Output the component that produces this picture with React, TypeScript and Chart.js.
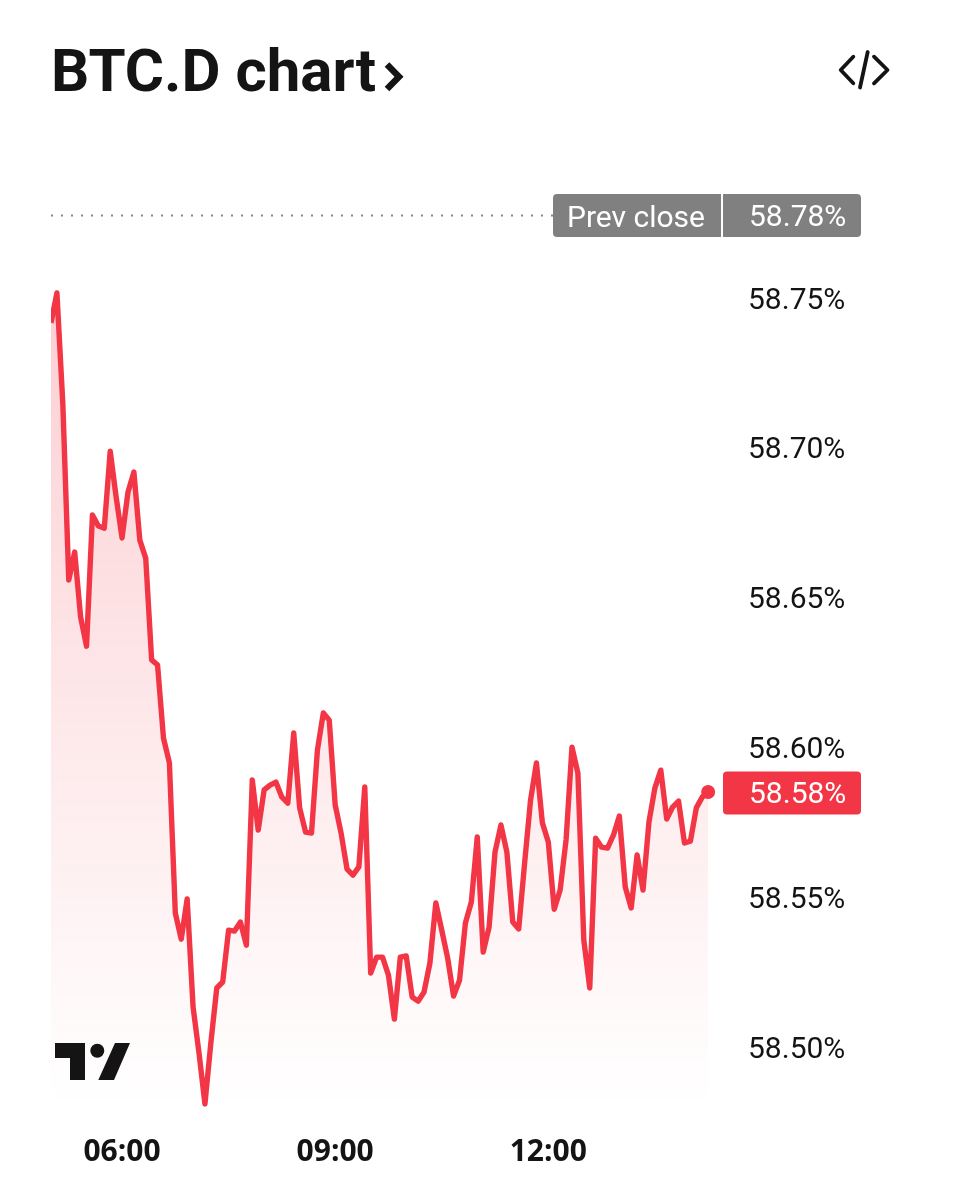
import React, { useEffect, useRef } from "react";
import { Chart, registerables } from "chart.js";

Chart.register(...registerables);

const TITLE = "BTC.D chart";
const START_MINUTE = 300;
const STEP_MINUTES = 5;
const PREV_CLOSE = 58.7775;
const PREV_CLOSE_LABEL = "58.78%";
const LAST_LABEL = "58.58%";
const Y_TICKS = [58.5, 58.55, 58.6, 58.65, 58.7, 58.75];
const X_TICKS = [360, 540, 720];
const PRICES = [
  58.7417, 58.7517, 58.7146, 58.6559, 58.6652, 58.6435, 58.6338, 58.6776, 58.6739, 58.6732,
  58.6989, 58.6836, 58.6699, 58.6852, 58.6919, 58.6692, 58.6632, 58.6292, 58.6275, 58.6031,
  58.5948, 58.5447, 58.536, 58.5494, 58.5133, 58.498, 58.481, 58.5013, 58.5197, 58.5217,
  58.539, 58.5387, 58.5417, 58.534, 58.5891, 58.5724, 58.5858, 58.5874, 58.5884, 58.5834,
  58.5814, 58.6048, 58.5798, 58.5717, 58.5714, 58.5991, 58.6115, 58.6091, 58.5808, 58.5714,
  58.5594, 58.5574, 58.5601, 58.5868, 58.5247, 58.53, 58.53, 58.524, 58.5093, 58.53,
  58.5304, 58.5167, 58.5153, 58.5183, 58.528, 58.5481, 58.539, 58.5297, 58.517, 58.5223,
  58.5414, 58.5484, 58.5701, 58.5317, 58.54, 58.5651, 58.5741, 58.5651, 58.5417, 58.5394,
  58.5614, 58.5824, 58.5948, 58.5748, 58.5684, 58.546, 58.5524, 58.5691, 58.6001, 58.5914,
  58.5357, 58.5197, 58.5697, 58.5667, 58.5664, 58.5707, 58.5771, 58.5534, 58.5464, 58.5641,
  58.5524, 58.5751, 58.5864, 58.5924, 58.5761, 58.5801, 58.5821, 58.5681, 58.5687, 58.5798,
  58.5834, 58.5851,
];

const RED = "#F23645";
const INK = "#141414";
const GREY = "#808080";
const FONT = "Roboto, sans-serif";

function pill(ctx: CanvasRenderingContext2D, x: number, y: number, w: number, h: number, r: number[], color: string) {
  ctx.fillStyle = color;
  ctx.beginPath();
  ctx.roundRect(x, y, w, h, r);
  ctx.fill();
}

const decor = {
  id: "decor",
  beforeDraw(chart: any) {
    // y-axis labels sit a little below their tick position
    for (const item of chart.scales.y.getLabelItems()) {
      if (!item.shifted) {
        item.options.translation[1] += 3;
        item.shifted = true;
      }
    }
  },
  afterDraw(chart: any) {
    const { ctx } = chart;
    const yScale = chart.scales.y;
    ctx.save();
    // chevron beside title
    ctx.strokeStyle = INK;
    ctx.lineWidth = 6.5;
    ctx.lineJoin = "miter";
    ctx.beginPath();
    ctx.moveTo(387, 64.5);
    ctx.lineTo(399, 76.7);
    ctx.lineTo(387, 89);
    ctx.stroke();
    // embed icon
    ctx.lineWidth = 3.8;
    ctx.lineCap = "round";
    ctx.lineJoin = "round";
    ctx.beginPath();
    ctx.moveTo(853.3, 56.7);
    ctx.lineTo(840.7, 70);
    ctx.lineTo(853.3, 83.3);
    ctx.moveTo(867.7, 52);
    ctx.lineTo(860, 87.5);
    ctx.moveTo(874, 56.7);
    ctx.lineTo(887.5, 70);
    ctx.lineTo(874, 83.3);
    ctx.stroke();
    // logo
    ctx.fillStyle = INK;
    ctx.beginPath();
    ctx.moveTo(55, 1043);
    ctx.lineTo(85, 1043);
    ctx.lineTo(85, 1080);
    ctx.lineTo(70, 1080);
    ctx.lineTo(70, 1058);
    ctx.lineTo(55, 1058);
    ctx.closePath();
    ctx.moveTo(115, 1043);
    ctx.lineTo(130, 1043);
    ctx.lineTo(114, 1080);
    ctx.lineTo(98.3, 1080);
    ctx.closePath();
    ctx.fill();
    ctx.beginPath();
    ctx.arc(97.3, 1050.7, 7, 0, Math.PI * 2);
    ctx.fill();

    // prev close pill
    const prevY = yScale.getPixelForValue(PREV_CLOSE);
    pill(ctx, 553, prevY - 21.5, 168, 43, [4, 0, 0, 4], GREY);
    pill(ctx, 723, prevY - 21.5, 138, 43, [0, 4, 4, 0], GREY);
    ctx.font = `30px ${FONT}`;
    ctx.fillStyle = "#ffffff";
    ctx.textBaseline = "middle";
    ctx.textAlign = "center";
    ctx.fillText("Prev close", 636, prevY + 3.5);
    ctx.textAlign = "left";
    ctx.fillText(PREV_CLOSE_LABEL, 749, prevY + 2.5);

    // last value pill
    const lastY = yScale.getPixelForValue(PRICES[PRICES.length - 1]);
    pill(ctx, 723, lastY - 20.5, 138, 43, [4, 4, 4, 4], RED);
    ctx.fillStyle = "#ffffff";
    ctx.fillText(LAST_LABEL, 749, lastY + 3.5);
    ctx.restore();
  },
};

export default function App() {
  const ref = useRef<HTMLCanvasElement>(null);

  useEffect(() => {
    document.body.style.margin = "0";
    document.body.style.background = "#ffffff";
    const last = PRICES.length - 1;
    const chart = new Chart(ref.current!, {
      type: "line",
      data: {
        datasets: [
          {
            label: "BTC.D",
            data: PRICES.map((y, i) => ({ x: START_MINUTE + i * STEP_MINUTES, y })),
            borderColor: RED,
            borderWidth: 5.4,
            borderJoinStyle: "round",
            tension: 0,
            pointRadius: (c: any) => (c.dataIndex === last ? 7 : 0),
            pointBackgroundColor: RED,
            pointBorderWidth: 0,
            fill: "start",
            backgroundColor: (c: any) => {
              const area = c.chart.chartArea;
              if (!area) return "rgba(242,54,69,0.2)";
              const g = c.chart.ctx.createLinearGradient(0, 290, 0, area.bottom);
              g.addColorStop(0, "rgba(242,54,69,0.24)");
              g.addColorStop(1, "rgba(242,54,69,0)");
              return g;
            },
          },
          {
            label: "Prev close",
            data: [
              { x: START_MINUTE, y: PREV_CLOSE },
              { x: 724, y: PREV_CLOSE },
            ],
            borderColor: "#868686",
            borderWidth: 2,
            borderDash: [2, 8],
            pointRadius: 0,
            fill: false,
          },
        ],
      },
      options: {
        animation: false,
        responsive: false,
        layout: { padding: { left: 51 } },
        plugins: {
          legend: { display: false },
          tooltip: { enabled: false },
          title: {
            display: true,
            text: TITLE,
            align: "start",
            color: INK,
            font: { family: FONT, size: 60, weight: "bold", lineHeight: 1.2 },
            padding: { top: 40, bottom: 78 },
          },
        },
        scales: {
          x: {
            type: "linear",
            min: 300,
            max: 866.7,
            grid: { display: false },
            border: { display: false },
            afterFit: (s: any) => {
              s.height = 92;
            },
            afterBuildTicks: (s: any) => {
              s.ticks = X_TICKS.map((value) => ({ value }));
            },
            ticks: {
              color: INK,
              padding: 18.5,
              maxRotation: 0,
              font: { family: "'Open Sans', sans-serif", size: 30, weight: "bold" },
              callback: (v: any) => `${String(Math.floor(v / 60)).padStart(2, "0")}:${String(v % 60).padStart(2, "0")}`,
            },
          },
          y: {
            position: "right",
            min: 58.47964,
            max: 58.78605,
            grid: { display: false },
            border: { display: false },
            afterFit: (s: any) => {
              s.width = 242;
            },
            afterBuildTicks: (s: any) => {
              s.ticks = Y_TICKS.map((value) => ({ value }));
            },
            ticks: {
              color: INK,
              padding: 18,
              font: { family: FONT, size: 30 },
              callback: (v: any) => `${Number(v).toFixed(2)}%`,
            },
          },
        },
      },
      plugins: [decor],
    } as any);
    return () => chart.destroy();
  }, []);

  return <canvas ref={ref} width={964} height={1200} style={{ display: "block" }} />;
}
